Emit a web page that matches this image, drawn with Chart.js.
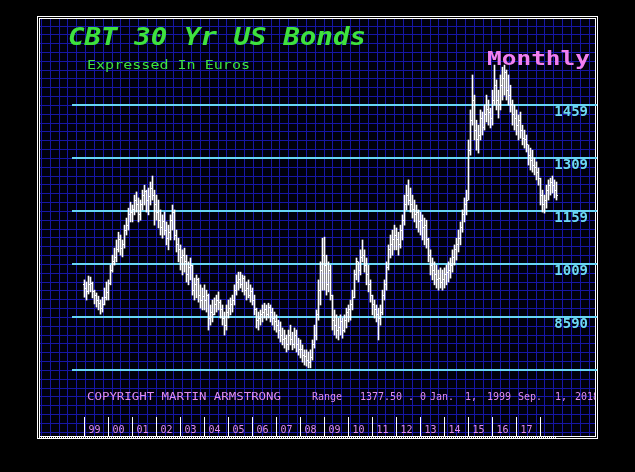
<!DOCTYPE html>
<html>
<head>
<meta charset="utf-8">
<script src="https://cdn.jsdelivr.net/npm/chart.js@4.4.1/dist/chart.umd.min.js"></script>
<style>
  html, body { margin: 0; padding: 0; background: #000; }
</style>
</head>
<body>
<canvas id="bondChart" width="635" height="472"></canvas>
<script>
// CBT 30 Yr US Bonds in euros, monthly bars Jan 1999 .. Sep 2018
const opens = [
  950, 941, 930, 950, 955, 930, 921, 907, 898, 884, 893, 913,        // 1999
  927, 955, 992, 1015, 1026, 1049, 1077, 1054, 1063, 1105, 1119, 1148, // 2000
  1156, 1162, 1190, 1176, 1148, 1176, 1204, 1213, 1190, 1201, 1224, 1204, // 2001
  1176, 1156, 1133, 1111, 1128, 1105, 1082, 1099, 1133, 1156, 1091, 1063, // 2002
  1049, 1026, 1034, 1015, 978, 998, 1006, 935, 950, 964, 921, 907,    // 2003
  918, 907, 921, 856, 873, 865, 893, 907, 901, 879, 856, 836,         // 2004
  873, 884, 893, 907, 935, 958, 964, 950, 969, 935, 941, 921,         // 2005
  930, 907, 879, 850, 856, 865, 873, 879, 865, 887, 873, 856,         // 2006
  845, 836, 822, 808, 794, 799, 780, 808, 794, 780, 808, 780,         // 2007
  766, 766, 751, 746, 737, 731, 743, 780, 808, 865, 935, 992,         // 2008
  1034, 1006, 950, 992, 921, 850, 836, 822, 828, 845, 822, 850,       // 2009
  873, 879, 893, 913, 978, 1015, 992, 1026, 1034, 1006, 978, 950,     // 2010
  921, 893, 879, 865, 856, 873, 921, 950, 998, 1049, 1063, 1077,      // 2011
  1091, 1077, 1063, 1105, 1133, 1176, 1204, 1190, 1176, 1162, 1148, 1156, // 2012
  1128, 1133, 1111, 1119, 1077, 1034, 1006, 992, 978, 964, 969, 958,  // 2013
  964, 978, 986, 992, 1006, 1026, 1049, 1063, 1082, 1111, 1148, 1176, // 2014
  1190, 1331, 1416, 1473, 1388, 1360, 1374, 1422, 1394, 1431, 1445, 1439, // 2015
  1422, 1473, 1515, 1473, 1459, 1515, 1535, 1552, 1501, 1487, 1459, 1431, // 2016
  1422, 1402, 1416, 1388, 1365, 1360, 1346, 1317, 1303, 1289, 1281, 1269, // 2017
  1252, 1204, 1176, 1190, 1218, 1232, 1241, 1232, 1218                // 2018
];
const highs = [
  964, 958, 975, 972, 958, 935, 927, 918, 907, 915, 941, 958,
  964, 1006, 1034, 1054, 1077, 1099, 1091, 1077, 1119, 1139, 1167, 1184,
  1176, 1204, 1213, 1196, 1190, 1218, 1232, 1218, 1224, 1241, 1258, 1218,
  1204, 1190, 1162, 1148, 1156, 1128, 1119, 1148, 1176, 1162, 1105, 1082,
  1063, 1049, 1054, 1034, 1015, 1026, 1006, 969, 978, 969, 950, 941,
  950, 935, 924, 893, 907, 913, 921, 930, 907, 893, 873, 893,
  907, 913, 921, 950, 978, 986, 986, 978, 975, 958, 964, 950,
  941, 921, 884, 873, 879, 893, 898, 893, 898, 893, 884, 873,
  865, 850, 845, 828, 822, 808, 822, 836, 816, 828, 822, 799,
  794, 780, 766, 766, 760, 766, 794, 836, 879, 964, 1015, 1082,
  1085, 1034, 1015, 1006, 921, 879, 865, 856, 865, 856, 865, 884,
  893, 907, 935, 992, 1026, 1015, 1049, 1077, 1049, 1026, 1006, 964,
  921, 907, 893, 884, 893, 935, 964, 1015, 1063, 1091, 1105, 1119,
  1111, 1099, 1119, 1148, 1204, 1232, 1247, 1224, 1204, 1190, 1176, 1162,
  1156, 1148, 1139, 1133, 1082, 1049, 1026, 1015, 1006, 992, 998, 992,
  998, 1006, 1015, 1026, 1049, 1063, 1082, 1105, 1128, 1162, 1196, 1218,
  1360, 1445, 1544, 1487, 1416, 1402, 1445, 1439, 1459, 1487, 1473, 1450,
  1501, 1572, 1530, 1501, 1544, 1566, 1572, 1558, 1544, 1515, 1473, 1459,
  1445, 1431, 1439, 1402, 1388, 1374, 1346, 1337, 1331, 1309, 1298, 1281,
  1252, 1218, 1204, 1232, 1247, 1252, 1258, 1247, 1241
];
const lows = [
  915, 907, 924, 930, 913, 896, 887, 879, 867, 873, 893, 907,
  907, 950, 986, 1006, 1015, 1043, 1034, 1029, 1054, 1091, 1105, 1128,
  1128, 1148, 1156, 1128, 1133, 1162, 1176, 1156, 1148, 1176, 1190, 1119,
  1133, 1111, 1091, 1082, 1091, 1063, 1049, 1077, 1105, 1077, 1043, 1015,
  992, 978, 986, 958, 950, 964, 921, 907, 913, 901, 884, 879,
  879, 873, 822, 836, 845, 865, 873, 879, 856, 836, 808, 822,
  856, 865, 873, 893, 921, 935, 941, 930, 921, 907, 913, 901,
  893, 865, 828, 822, 836, 845, 856, 850, 856, 845, 836, 822,
  816, 799, 788, 780, 771, 760, 766, 780, 766, 771, 760, 751,
  743, 731, 723, 720, 715, 715, 737, 771, 794, 850, 893, 935,
  935, 921, 930, 907, 822, 808, 799, 794, 808, 799, 816, 828,
  845, 850, 879, 913, 964, 958, 978, 1015, 986, 950, 930, 901,
  865, 856, 845, 794, 836, 865, 907, 935, 992, 1026, 1034, 1049,
  1049, 1034, 1054, 1077, 1119, 1162, 1176, 1156, 1139, 1128, 1111, 1099,
  1091, 1077, 1063, 1054, 1015, 978, 964, 950, 941, 935, 941, 935,
  941, 950, 958, 969, 986, 1006, 1020, 1043, 1063, 1099, 1128, 1148,
  1190, 1317, 1402, 1360, 1331, 1323, 1360, 1374, 1388, 1411, 1402, 1394,
  1402, 1459, 1445, 1422, 1445, 1473, 1487, 1473, 1459, 1439, 1402, 1388,
  1374, 1360, 1365, 1346, 1337, 1326, 1289, 1275, 1269, 1261, 1247, 1232,
  1176, 1156, 1153, 1167, 1190, 1204, 1210, 1196, 1190
];
const closes = [
  941, 930, 950, 955, 930, 921, 907, 898, 884, 893, 913, 927,
  955, 992, 1015, 1026, 1049, 1077, 1054, 1063, 1105, 1119, 1148, 1156,
  1162, 1190, 1176, 1148, 1176, 1204, 1213, 1190, 1201, 1224, 1204, 1176,
  1156, 1133, 1111, 1128, 1105, 1082, 1099, 1133, 1156, 1091, 1063, 1049,
  1026, 1034, 1015, 978, 998, 1006, 935, 950, 964, 921, 907, 918,
  907, 921, 856, 873, 865, 893, 907, 901, 879, 856, 836, 873,
  884, 893, 907, 935, 958, 964, 950, 969, 935, 941, 921, 930,
  907, 879, 850, 856, 865, 873, 879, 865, 887, 873, 856, 845,
  836, 822, 808, 794, 799, 780, 808, 794, 780, 808, 780, 766,
  766, 751, 746, 737, 731, 743, 780, 808, 865, 935, 992, 1034,
  1006, 950, 992, 921, 850, 836, 822, 828, 845, 822, 850, 873,
  879, 893, 913, 978, 1015, 992, 1026, 1034, 1006, 978, 950, 921,
  893, 879, 865, 856, 873, 921, 950, 998, 1049, 1063, 1077, 1091,
  1077, 1063, 1105, 1133, 1176, 1204, 1190, 1176, 1162, 1148, 1156, 1128,
  1133, 1111, 1119, 1077, 1034, 1006, 992, 978, 964, 969, 958, 964,
  978, 986, 992, 1006, 1026, 1049, 1063, 1082, 1111, 1148, 1176, 1190,
  1331, 1416, 1473, 1388, 1360, 1374, 1422, 1394, 1431, 1445, 1439, 1422,
  1473, 1515, 1473, 1459, 1515, 1535, 1552, 1501, 1487, 1459, 1431, 1422,
  1402, 1416, 1388, 1365, 1360, 1346, 1317, 1303, 1289, 1281, 1269, 1252,
  1204, 1176, 1190, 1218, 1232, 1241, 1232, 1218, 1204
];
const yearLabels = ["99", "00", "01", "02", "03", "04", "05", "06", "07", "08",
                    "09", "10", "11", "12", "13", "14", "15", "16", "17"];
const levels = [709, 859, 1009, 1159, 1309, 1459];
const levelLabels = ["", "8590", "1009", "1159", "1309", "1459"];

// year boundaries in months (Jan 99 .. Jan 18)
const yearTicks = yearLabels.map((_, i) => i * 12).concat([yearLabels.length * 12]);

// open / close tick images, centre pixel is the bar
function tickImage(side) {
    const cv = document.createElement("canvas");
    cv.width = 5;
    cv.height = 1;
    const g = cv.getContext("2d");
    g.fillStyle = "#ffffff";
    g.fillRect(side === "open" ? 1 : 3, 0, 1, 1);
    return cv;
}

function fit(c, str, x, y, w) {
    const m = c.measureText(str).width;
    c.save();
    c.translate(x, y);
    c.scale(w / m, 1);
    c.fillText(str, 0, 0);
    c.restore();
}

const backdrop = {
    id: "backdrop",
    beforeDraw(chart) {
        const c = chart.ctx;
        c.save();
        c.fillStyle = "#000";
        c.fillRect(0, 0, chart.width, chart.height);
        c.fillStyle = "#00000c";
        c.fillRect(40, 19, 555, 417);
        c.strokeStyle = "#1616a6";
        c.lineWidth = 1;
        c.beginPath();
        for (let gx = 41; gx < 595; gx += 8.833) {
            const px = Math.round(gx) + 0.5;
            c.moveTo(px, 19);
            c.lineTo(px, 436);
        }
        for (let gy = 25.5; gy < 436; gy += 8.833) {
            const py = Math.round(gy) + 0.5;
            c.moveTo(40, py);
            c.lineTo(595, py);
        }
        c.stroke();
        c.strokeStyle = "#fff";
        c.strokeRect(37.5, 16.5, 560, 422);
        c.strokeRect(39.5, 18.5, 556, 418);
        c.setLineDash([1, 1]);
        c.beginPath();
        c.moveTo(37, 437.5);
        c.lineTo(557, 437.5);
        c.stroke();
        c.restore();
    },
};

const captions = {
    id: "captions",
    beforeDatasetsDraw(chart) {
        const c = chart.ctx;
        c.save();
        c.beginPath();
        c.rect(40, 19, 555, 417);
        c.clip();
        c.textAlign = "left";
        c.textBaseline = "alphabetic";

        c.fillStyle = "#3ee23e";
        c.font = 'italic bold 24px "DejaVu Sans Mono"';
        fit(c, "CBT 30 Yr US Bonds", 68, 45, 298);
        c.font = '13px "DejaVu Sans Mono"';
        fit(c, "Expressed In Euros", 87, 69, 163);

        c.fillStyle = "#f27ff0";
        c.font = 'bold 19px "DejaVu Sans Mono"';
        fit(c, "Monthly", 487, 65, 103);

        c.fillStyle = "#e08cf2";
        c.font = '11px "DejaVu Sans Mono"';
        fit(c, "COPYRIGHT MARTIN ARMSTRONG", 87, 400, 194);
        c.font = '10px "DejaVu Sans Mono"';
        const parts = [["Range", 312], ["1377.50", 360], [". 0", 408], ["Jan.", 430], ["1,", 465],
                       ["1999", 487], ["Sep.", 518], ["1,", 555], ["2018", 575]];
        parts.forEach(([t, x]) => c.fillText(t, x, 400));
        c.restore();
    },
};

const months = closes.map((_, i) => i);

new Chart(document.getElementById("bondChart"), {
    type: "bar",
    data: {
        datasets: [
            {
                type: "bar",
                data: months.map((i) => ({ x: i, y: [lows[i], highs[i]] })),
                backgroundColor: "#ffffff",
                borderWidth: 0,
                barThickness: 1,
            },
            {
                type: "line",
                data: months.map((i) => ({ x: i, y: opens[i] })),
                showLine: false,
                pointStyle: tickImage("open"),
                pointRadius: 1,
            },
            {
                type: "line",
                data: months.map((i) => ({ x: i, y: closes[i] })),
                showLine: false,
                pointStyle: tickImage("close"),
                pointRadius: 1,
            },
        ],
    },
    options: {
        responsive: false,
        animation: false,
        events: [],
        layout: { padding: { left: 72, right: 38, top: 40, bottom: 35 } },
        plugins: {
            legend: { display: false },
            tooltip: { enabled: false },
        },
        scales: {
            x: {
                type: "linear",
                min: -6.25,
                max: 256.25,
                offset: false,
                afterFit: (s) => { s.height = 20; },
                afterBuildTicks: (s) => { s.ticks = yearTicks.map((v) => ({ value: v })); },
                grid: {
                    offset: false,
                    drawOnChartArea: false,
                    drawTicks: true,
                    tickLength: 19,
                    tickColor: "#ffffff",
                    tickWidth: 1,
                },
                border: { display: false },
                ticks: {
                    autoSkip: false,
                    maxRotation: 0,
                    padding: -12,
                    labelOffset: 10,
                    color: "#e08cf2",
                    font: { family: "DejaVu Sans Mono", size: 10 },
                    callback: (v) => yearLabels[v / 12] || "",
                },
            },
            y: {
                type: "linear",
                position: "right",
                min: 575.98,
                max: 1642.96,
                z: 1,
                afterFit: (s) => { s.width = 0; },
                afterBuildTicks: (s) => { s.ticks = levels.map((v) => ({ value: v })); },
                grid: { color: "#66d4f4", lineWidth: 2, drawTicks: false },
                border: { display: false },
                ticks: {
                    mirror: true,
                    padding: -9,
                    labelOffset: 7,
                    color: "#6cd8f4",
                    font: { family: "DejaVu Sans Mono", size: 14, weight: "bold" },
                    callback: (v) => levelLabels[levels.indexOf(v)],
                },
            },
        },
    },
    plugins: [backdrop, captions],
});
</script>
</body>
</html>
